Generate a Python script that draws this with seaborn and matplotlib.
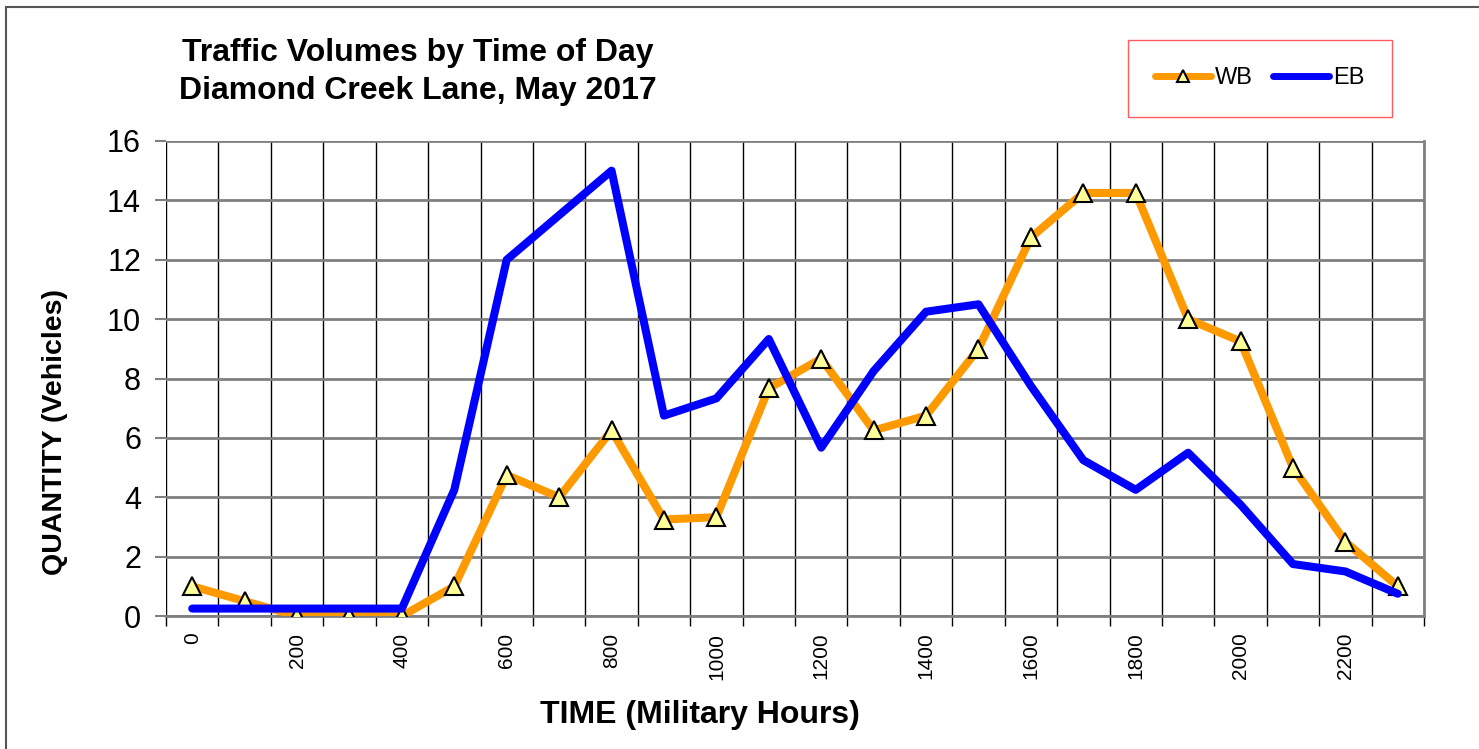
import numpy as np
import pandas as pd
import matplotlib
matplotlib.use("Agg")
import matplotlib.pyplot as plt
from matplotlib.patches import Rectangle
import seaborn as sns

# data
hours = [0, 100, 200, 300, 400, 500, 600, 700, 800, 900, 1000, 1100,
         1200, 1300, 1400, 1500, 1600, 1700, 1800, 1900, 2000, 2100, 2200, 2300]
wb = [1.0, 0.5, 0.0, 0.0, 0.0, 1.0, 4.75, 4.0, 6.25, 3.25, 3.33, 7.67,
      8.67, 6.25, 6.75, 9.0, 12.75, 14.25, 14.25, 10.0, 9.25, 5.0, 2.5, 1.0]
eb = [0.25, 0.25, 0.25, 0.25, 0.25, 4.25, 12.0, 13.5, 15.0, 6.75, 7.33, 9.33,
      5.67, 8.25, 10.25, 10.5, 7.75, 5.25, 4.25, 5.5, 3.75, 1.75, 1.5, 0.75]
tick_hours = [0, 200, 400, 600, 800, 1000, 1200, 1400, 1600, 1800, 2000, 2200]

sns.set_style("white")
plt.rcParams['font.family'] = ['Liberation Sans', 'DejaVu Sans']
plt.rcParams['text.color'] = 'black'
plt.rcParams['axes.labelcolor'] = 'black'
plt.rcParams['xtick.color'] = 'black'
plt.rcParams['ytick.color'] = 'black'

fig = plt.figure(figsize=(14.79, 7.49), dpi=100)
ax = fig.add_axes([166 / 1479, 1 - 616 / 749, (1424 - 166) / 1479, (616 - 141) / 749])

# outer chart frame
fig.patches.append(Rectangle((5.5 / 1479, -0.1), 1.2, 1.1 - 6.5 / 749,
                             transform=fig.transFigure, fill=False,
                             edgecolor='#555555', linewidth=1.5))

sns.lineplot(x=hours, y=wb, ax=ax, color='#FF9900', linewidth=5.8,
             marker='^', markersize=13, markerfacecolor='#FFFF99',
             markeredgecolor='black', markeredgewidth=1.5,
             solid_capstyle='round', label='WB', zorder=3)
sns.lineplot(x=hours, y=eb, ax=ax, color='#0000FF', linewidth=5.8,
             solid_capstyle='round', label='EB', zorder=4)

ax.set_xlim(-50, 2350)
ax.set_ylim(0, 16)
ax.set_yticks(range(0, 17, 2))
ax.set_xticks(tick_hours)
ax.set_xticklabels([str(h) for h in tick_hours], rotation=90, fontsize=15)
ax.set_xticks(np.arange(-50, 2351, 100), minor=True)
ax.tick_params(axis='x', which='major', length=0, pad=12)
ax.tick_params(axis='x', which='minor', length=7, width=1, color='black', direction='out', bottom=True)
ax.tick_params(axis='y', labelsize=22, length=8, width=1.5, color='#808080',
               direction='out', left=True, pad=10)

ax.grid(axis='x', which='minor', color='black', linewidth=1)
ax.grid(axis='y', which='major', color='#808080', linewidth=2)
ax.grid(axis='x', which='major', visible=False)
ax.set_axisbelow(True)
for side in ['top', 'left']:
    ax.spines[side].set_visible(False)
for side in ['right', 'bottom']:
    ax.spines[side].set_color('#808080')
    ax.spines[side].set_linewidth(2)

ax.set_xlabel('TIME (Military Hours)', fontsize=23, fontweight='bold')
ax.xaxis.set_label_coords((700 - 166) / 1258, (616 - 715) / 475)
ax.xaxis.label.set_verticalalignment('center')
ax.set_ylabel('QUANTITY (Vehicles)', fontsize=20.5, fontweight='bold')
ax.yaxis.set_label_coords((55 - 166) / 1258, (616 - 432) / 475)
ax.yaxis.label.set_verticalalignment('center')

fig.text(418 / 1479, 1 - 72 / 749, 'Traffic Volumes by Time of Day\nDiamond Creek Lane, May 2017',
         ha='center', va='center', fontsize=23, fontweight='bold', linespacing=1.32)

ax.get_legend().remove()
handles, labels = ax.get_legend_handles_labels()
leg = fig.legend(handles, labels, loc='center', ncol=2,
                 bbox_to_anchor=(1260 / 1479, 1 - 78.5 / 749),
                 fontsize=17, frameon=True, fancybox=False, borderpad=1.15,
                 handlelength=2.35, handletextpad=0.2, columnspacing=0.85,
                 borderaxespad=0)
leg.get_frame().set_edgecolor('#FF3333')
leg.get_frame().set_linewidth(1)
for line in leg.get_lines():
    line.set_linewidth(5)
    line.set_markersize(8)

fig.savefig('out.png', dpi=100)
